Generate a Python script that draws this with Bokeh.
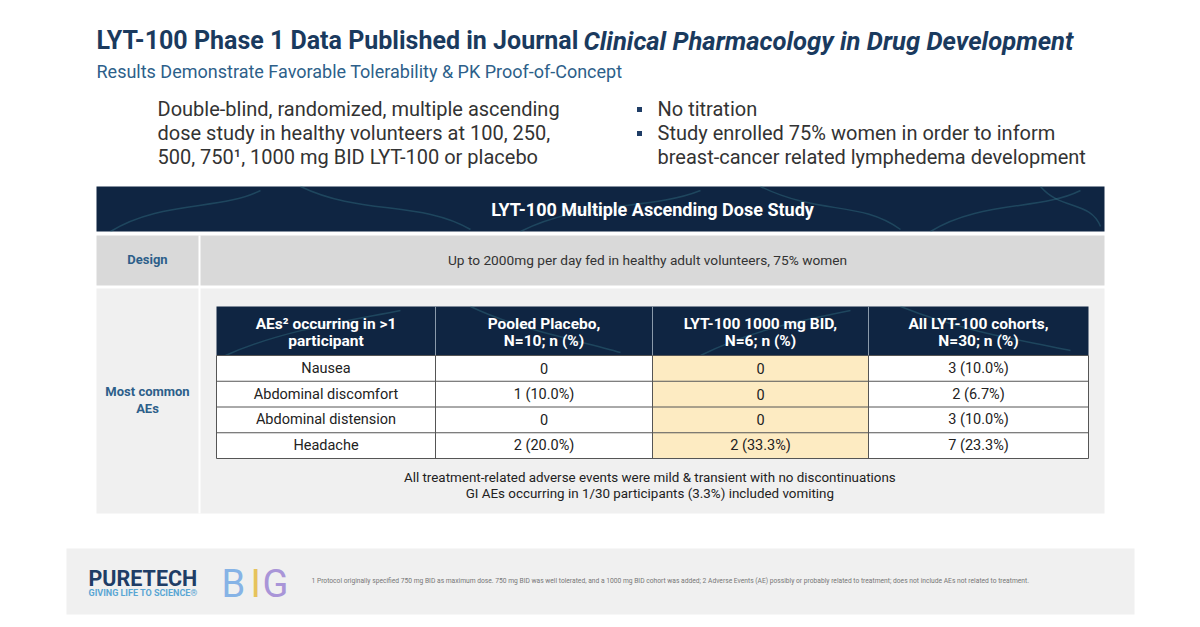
from bokeh.plotting import figure
from bokeh.models import Range1d
from bokeh.core.properties import value
from bokeh.embed import file_html
from bokeh.resources import INLINE

# ---------------- data ----------------
title_plain = "LYT-100 Phase 1 Data Published in Journal "
title_italic = "Clinical Pharmacology in Drug Development"
subtitle = "Results Demonstrate Favorable Tolerability & PK Proof-of-Concept"
intro_lines = ["Double-blind, randomized, multiple ascending",
               "dose study in healthy volunteers at 100, 250,",
               "500, 750\u00b9, 1000 mg BID LYT-100 or placebo"]
bullets = [["No titration"],
           ["Study enrolled 75% women in order to inform",
            "breast-cancer related lymphedema development"]]
banner_title = "LYT-100 Multiple Ascending Dose Study"
row_labels = [["Design"], ["Most common", "AEs"]]
design_text = "Up to 2000mg per day fed in healthy adult volunteers, 75% women"
col_headers = [["AEs\u00b2 occurring in >1", "participant"],
               ["Pooled Placebo,", "N=10; n (%)"],
               ["LYT-100 1000 mg BID,", "N=6; n (%)"],
               ["All LYT-100 cohorts,", "N=30; n (%)"]]
ae_terms = ["Nausea", "Abdominal discomfort", "Abdominal distension", "Headache"]
group_sizes = [10, 6, 30]
placebo_counts = [0, 1, 0, 2]
lyt1000_counts = [0, 0, 0, 2]
all_lyt_counts = [3, 2, 3, 7]
notes = ["All treatment-related  adverse events were mild & transient with no discontinuations",
         "GI AEs occurring in 1/30 participants (3.3%)  included vomiting"]
footnote = ("1  Protocol originally specified 750 mg BID as maximum dose. 750 mg BID was well tolerated, "
            "and a 1000 mg BID cohort was added; 2 Adverse Events (AE) possibly or probably related to "
            "treatment; does not include AEs not related to treatment.")
brand = "PURETECH"
tagline = "GIVING LIFE TO SCIENCE\u00ae"
logo_letters = ["B", "I", "G"]

# ---------------- style ----------------
FONT = value("Roboto")
NAVY = "#0f2542"
TITLE_C = "#1a3a5e"
BLUE_C = "#2d5f8a"
TEXT_C = "#333333"

p = figure(width=1192, height=619, x_range=Range1d(0, 1192), y_range=Range1d(619, 0),
           output_backend="svg", toolbar_location=None, min_border=0,
           x_axis_type=None, y_axis_type=None, outline_line_color=None,
           background_fill_color="white", border_fill_color="white")
p.grid.visible = False

def txt(x, y, t, size, color, align="left", style="normal"):
    ts = t if isinstance(t, list) else [t]
    n = len(ts)
    xs = x if isinstance(x, list) else [x] * n
    ys = y if isinstance(y, list) else [y] * n
    p.text(x=xs, y=ys, text=ts, text_font=FONT, text_font_size=size, text_color=color,
           text_align=align, text_baseline="middle", text_font_style=style)

# title
txt(96, 40, title_plain, "25px", TITLE_C, style="bold")
txt(583, 40, title_italic, "25.6px", TITLE_C, style="bold italic")
txt(96, 71, subtitle, "18px", BLUE_C)

# intro
txt(157, [108, 132, 156], intro_lines, "20px", TEXT_C)
by = 108
for b in bullets:
    p.rect(x=[639], y=[by + 1], width=5, height=5, fill_color="#1f3d66", line_color=None)
    txt(657, [by + 24 * k for k in range(len(b))], b, "20px", TEXT_C)
    by += 24 * len(b)

# banner
L, R = 96, 1104
p.quad(left=[L], right=[R], top=[186], bottom=[231], fill_color=NAVY, line_color=None)
deco = dict(line_color="#3d8593", line_alpha=0.35, line_width=1.5)
p.bezier(x0=[110, 300, 520, 760, 930, 1040], y0=[231, 186, 231, 186, 231, 186],
         x1=[260, 470, 700, 900, 1080, 1100], y1=[190, 229, 190, 229, 190, 226],
         cx0=[160, 360, 580, 820, 980, 1060], cy0=[200, 215, 200, 215, 200, 210],
         cx1=[220, 420, 650, 860, 1040, 1090], cy1=[210, 200, 210, 200, 210, 200], **deco)
txt(652, 209, banner_title, "18px", "white", align="center", style="bold")

# rows
split = 199
p.quad(left=[L], right=[R], top=[235], bottom=[285], fill_color="#d9d9d9", line_color=None)
p.quad(left=[L], right=[R], top=[288], bottom=[513], fill_color="#f0f0f0", line_color=None)
p.segment(x0=[split], y0=[235], x1=[split], y1=[513], line_color="white", line_width=2)
row_centers = [259, 399.5]
for lab, cy in zip(row_labels, row_centers):
    n = len(lab)
    ys = [cy + 17 * (k - (n - 1) / 2) for k in range(n)]
    txt(147, ys, lab, "13px", BLUE_C, align="center", style="bold")
txt(647, 259, design_text, "13.7px", TEXT_C, align="center")

# inner table
col_edges = [216, 435, 652, 868, 1088]
h_top, h_bot = 306, 355
row_h = 25.75
row_edges = [h_bot + row_h * i for i in range(len(ae_terms) + 1)]
p.quad(left=[col_edges[0]], right=[col_edges[-1]], top=[h_top], bottom=[h_bot],
       fill_color=NAVY, line_color=None)
p.bezier(x0=[225, 470, 700, 900], y0=[355, 306, 355, 306], x1=[400, 620, 850, 1070],
         y1=[310, 352, 310, 350], cx0=[280, 520, 750, 960], cy0=[330, 330, 330, 330],
         cx1=[350, 580, 800, 1020], cy1=[320, 340, 320, 340], **deco)

def fmt(c, n):
    return "0" if c == 0 else f"{c} ({100 * c / n:.1f}%)"

cols = [ae_terms,
        [fmt(c, group_sizes[0]) for c in placebo_counts],
        [fmt(c, group_sizes[1]) for c in lyt1000_counts],
        [fmt(c, group_sizes[2]) for c in all_lyt_counts]]
nr = len(ae_terms)
for ci in range(4):
    fill = "#fdebc2" if ci == 2 else "white"
    p.quad(left=[col_edges[ci]] * nr, right=[col_edges[ci + 1]] * nr,
           top=row_edges[:-1], bottom=row_edges[1:], fill_color=fill, line_color=None)
    cx = (col_edges[ci] + col_edges[ci + 1]) / 2
    txt(cx, [h_top + 17, h_top + 34], col_headers[ci], "15.5px", "white", align="center", style="bold")
    txt(cx, [(row_edges[i] + row_edges[i + 1]) / 2 for i in range(nr)], cols[ci],
        "14.5px", "#222222", align="center")
# grid lines
p.segment(x0=[col_edges[0]] * len(row_edges), x1=[col_edges[-1]] * len(row_edges),
          y0=row_edges, y1=row_edges, line_color="#555555", line_width=1)
p.segment(x0=col_edges[1:-1], x1=col_edges[1:-1], y0=[h_top] * 3, y1=[h_bot] * 3,
          line_color="#8a9aaa", line_width=1)
p.segment(x0=col_edges, x1=col_edges, y0=[h_bot] * 5, y1=[row_edges[-1]] * 5,
          line_color="#555555", line_width=1)

txt(651, [477, 493], notes, "13.4px", "#222222", align="center")

# footer
p.quad(left=[66], right=[1134], top=[548], bottom=[614], fill_color="#f0f0f0", line_color=None)
txt(88, 578, brand, "21.5px", "#1f3d66", style="bold")
txt(88, 592, tagline, "9px", "#5aa6d4", style="bold")
for letter, x, c in zip(logo_letters, [221, 250, 262], ["#86b3e6", "#e6c35c", "#a995d8"]):
    txt(x, 583, letter, "38px", c)
txt(311, 580, footnote, "6.7px", "#777777")

open("out.html", "w").write(file_html(p, INLINE))
